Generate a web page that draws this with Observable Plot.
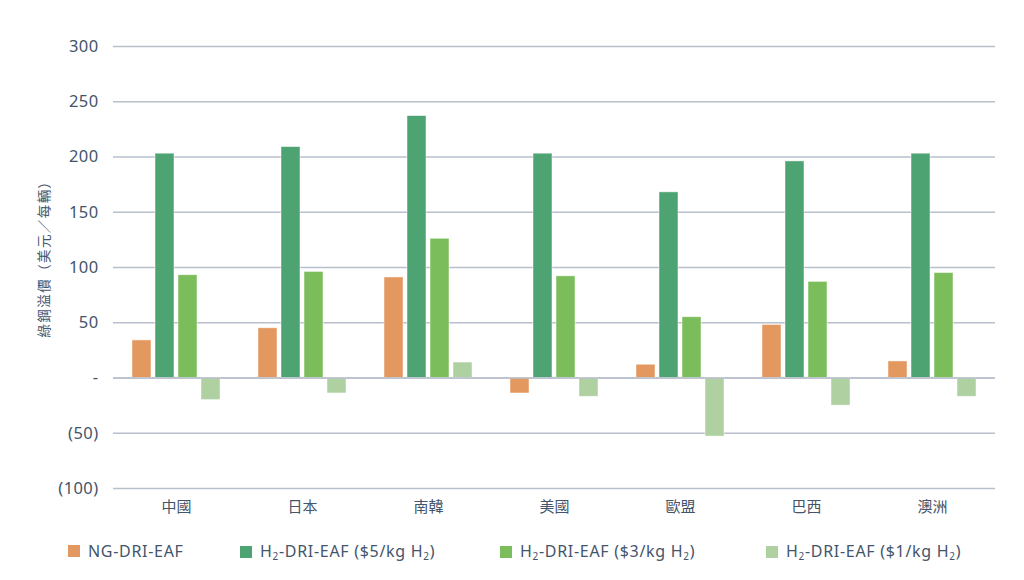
<!DOCTYPE html>
<html>
<head>
<meta charset="utf-8">
<script src="https://cdn.jsdelivr.net/npm/d3@7"></script>
<script src="https://cdn.jsdelivr.net/npm/@observablehq/plot@0.6"></script>
<style>
  html, body { margin: 0; padding: 0; background: #fff; }
  #chart { width: 1024px; }
  .legend { display: flex; height: 52px; align-items: center; position: relative; font-family: "Noto Sans", Roboto, sans-serif; font-size: 16px; letter-spacing: 0.7px; color: #44546a; }
  .item { position: absolute; display: flex; align-items: center; top: 12px; }
  .sw { width: 12px; height: 12px; margin-right: 8px; }
  .item sub { font-size: 10px; vertical-align: -3px; }
</style>
</head>
<body>
<div id="chart"></div>
<script>
const categories = ["中國", "日本", "南韓", "美國", "歐盟", "巴西", "澳洲"];
const seriesNames = ["NG-DRI-EAF", "H2-DRI-EAF ($5/kg H2)", "H2-DRI-EAF ($3/kg H2)", "H2-DRI-EAF ($1/kg H2)"];
const ngValues = [34, 45, 91, -14, 12, 48, 15];
const h5Values = [203, 209, 237, 203, 168, 196, 203];
const h3Values = [93, 96, 126, 92, 55, 87, 95];
const h1Values = [-20, -14, 14, -17, -53, -25, -17];
const colors = ["#e3985f", "#4ea372", "#7bbc5b", "#afd0a0"];
const yTicks = [-100, -50, 0, 50, 100, 150, 200, 250, 300];
const yLabel = "綠鋼溢價（美元／每輛）";

const allValues = [ngValues, h5Values, h3Values, h1Values];
const data = [];
categories.forEach((c, i) => {
  seriesNames.forEach((s, j) => data.push({category: c, series: s, value: allValues[j][i]}));
});

const fmt = v => v === 0 ? "-" : v < 0 ? `(${Math.abs(v)})` : String(v);
const textColor = "#44546a";
const gridColor = "#b8c0cc";

const plot = Plot.plot({
  width: 1024,
  height: 528,
  marginLeft: 113,
  marginRight: 29,
  marginTop: 46,
  marginBottom: 40,
  style: {fontFamily: "'Noto Sans', Roboto, sans-serif", color: textColor, background: "#fff"},
  fx: {domain: categories, padding: 0},
  x: {domain: seriesNames, paddingInner: 0.17, paddingOuter: 0.74, axis: null},
  y: {domain: [-100, 300]},
  color: {domain: seriesNames, range: colors},
  marks: [
    Plot.gridY(yTicks, {stroke: gridColor, strokeOpacity: 1, strokeWidth: 1.4}),
    Plot.barY(data, {fx: "category", x: "series", y: "value", fill: "series", stroke: "#ffffff", strokeOpacity: 0.6, strokeWidth: 0.8}),
    Plot.ruleY([0], {stroke: gridColor, strokeWidth: 1.4}),
    Plot.axisY(yTicks, {tickSize: 0, tickPadding: 15, tickFormat: fmt, fontSize: 16.5, fill: textColor,
      label: yLabel, labelAnchor: "center", labelArrow: "none", labelOffset: 74}),
    Plot.axisFx({anchor: "bottom", tickSize: 0, tickPadding: 13, fontSize: 15, fill: textColor, label: null,
      fontFamily: "'Noto Sans CJK TC', sans-serif", letterSpacing: "2px"})
  ]
});
d3.select(plot).selectAll("[aria-label='y-axis tick label'] text").attr("letter-spacing", "0.4px");
d3.select(plot).selectAll("[aria-label='y-axis label'] text, [aria-label='y-axis label']")
  .attr("font-family", "'Noto Sans CJK TC', sans-serif").attr("font-size", 13.5).attr("letter-spacing", "1.4px");
d3.select(plot).selectAll("[aria-label='y-axis label'] text").each(function() {
  const t = this.getAttribute("transform") || "";
  this.setAttribute("transform", t + " translate(12,0)");
});
document.getElementById("chart").appendChild(plot);

// legend
const legend = document.createElement("div");
legend.className = "legend";
const legendItems = [
  {x: 68, html: "NG-DRI-EAF"},
  {x: 240, html: "H<sub>2</sub>-DRI-EAF ($5/kg H<sub>2</sub>)"},
  {x: 500, html: "H<sub>2</sub>-DRI-EAF ($3/kg H<sub>2</sub>)"},
  {x: 766, html: "H<sub>2</sub>-DRI-EAF ($1/kg H<sub>2</sub>)"}
];
legendItems.forEach((it, i) => {
  const d = document.createElement("div");
  d.className = "item";
  d.style.left = it.x + "px";
  d.innerHTML = `<span class="sw" style="background:${colors[i]}"></span><span>${it.html}</span>`;
  legend.appendChild(d);
});
document.getElementById("chart").appendChild(legend);
</script>
</body>
</html>
